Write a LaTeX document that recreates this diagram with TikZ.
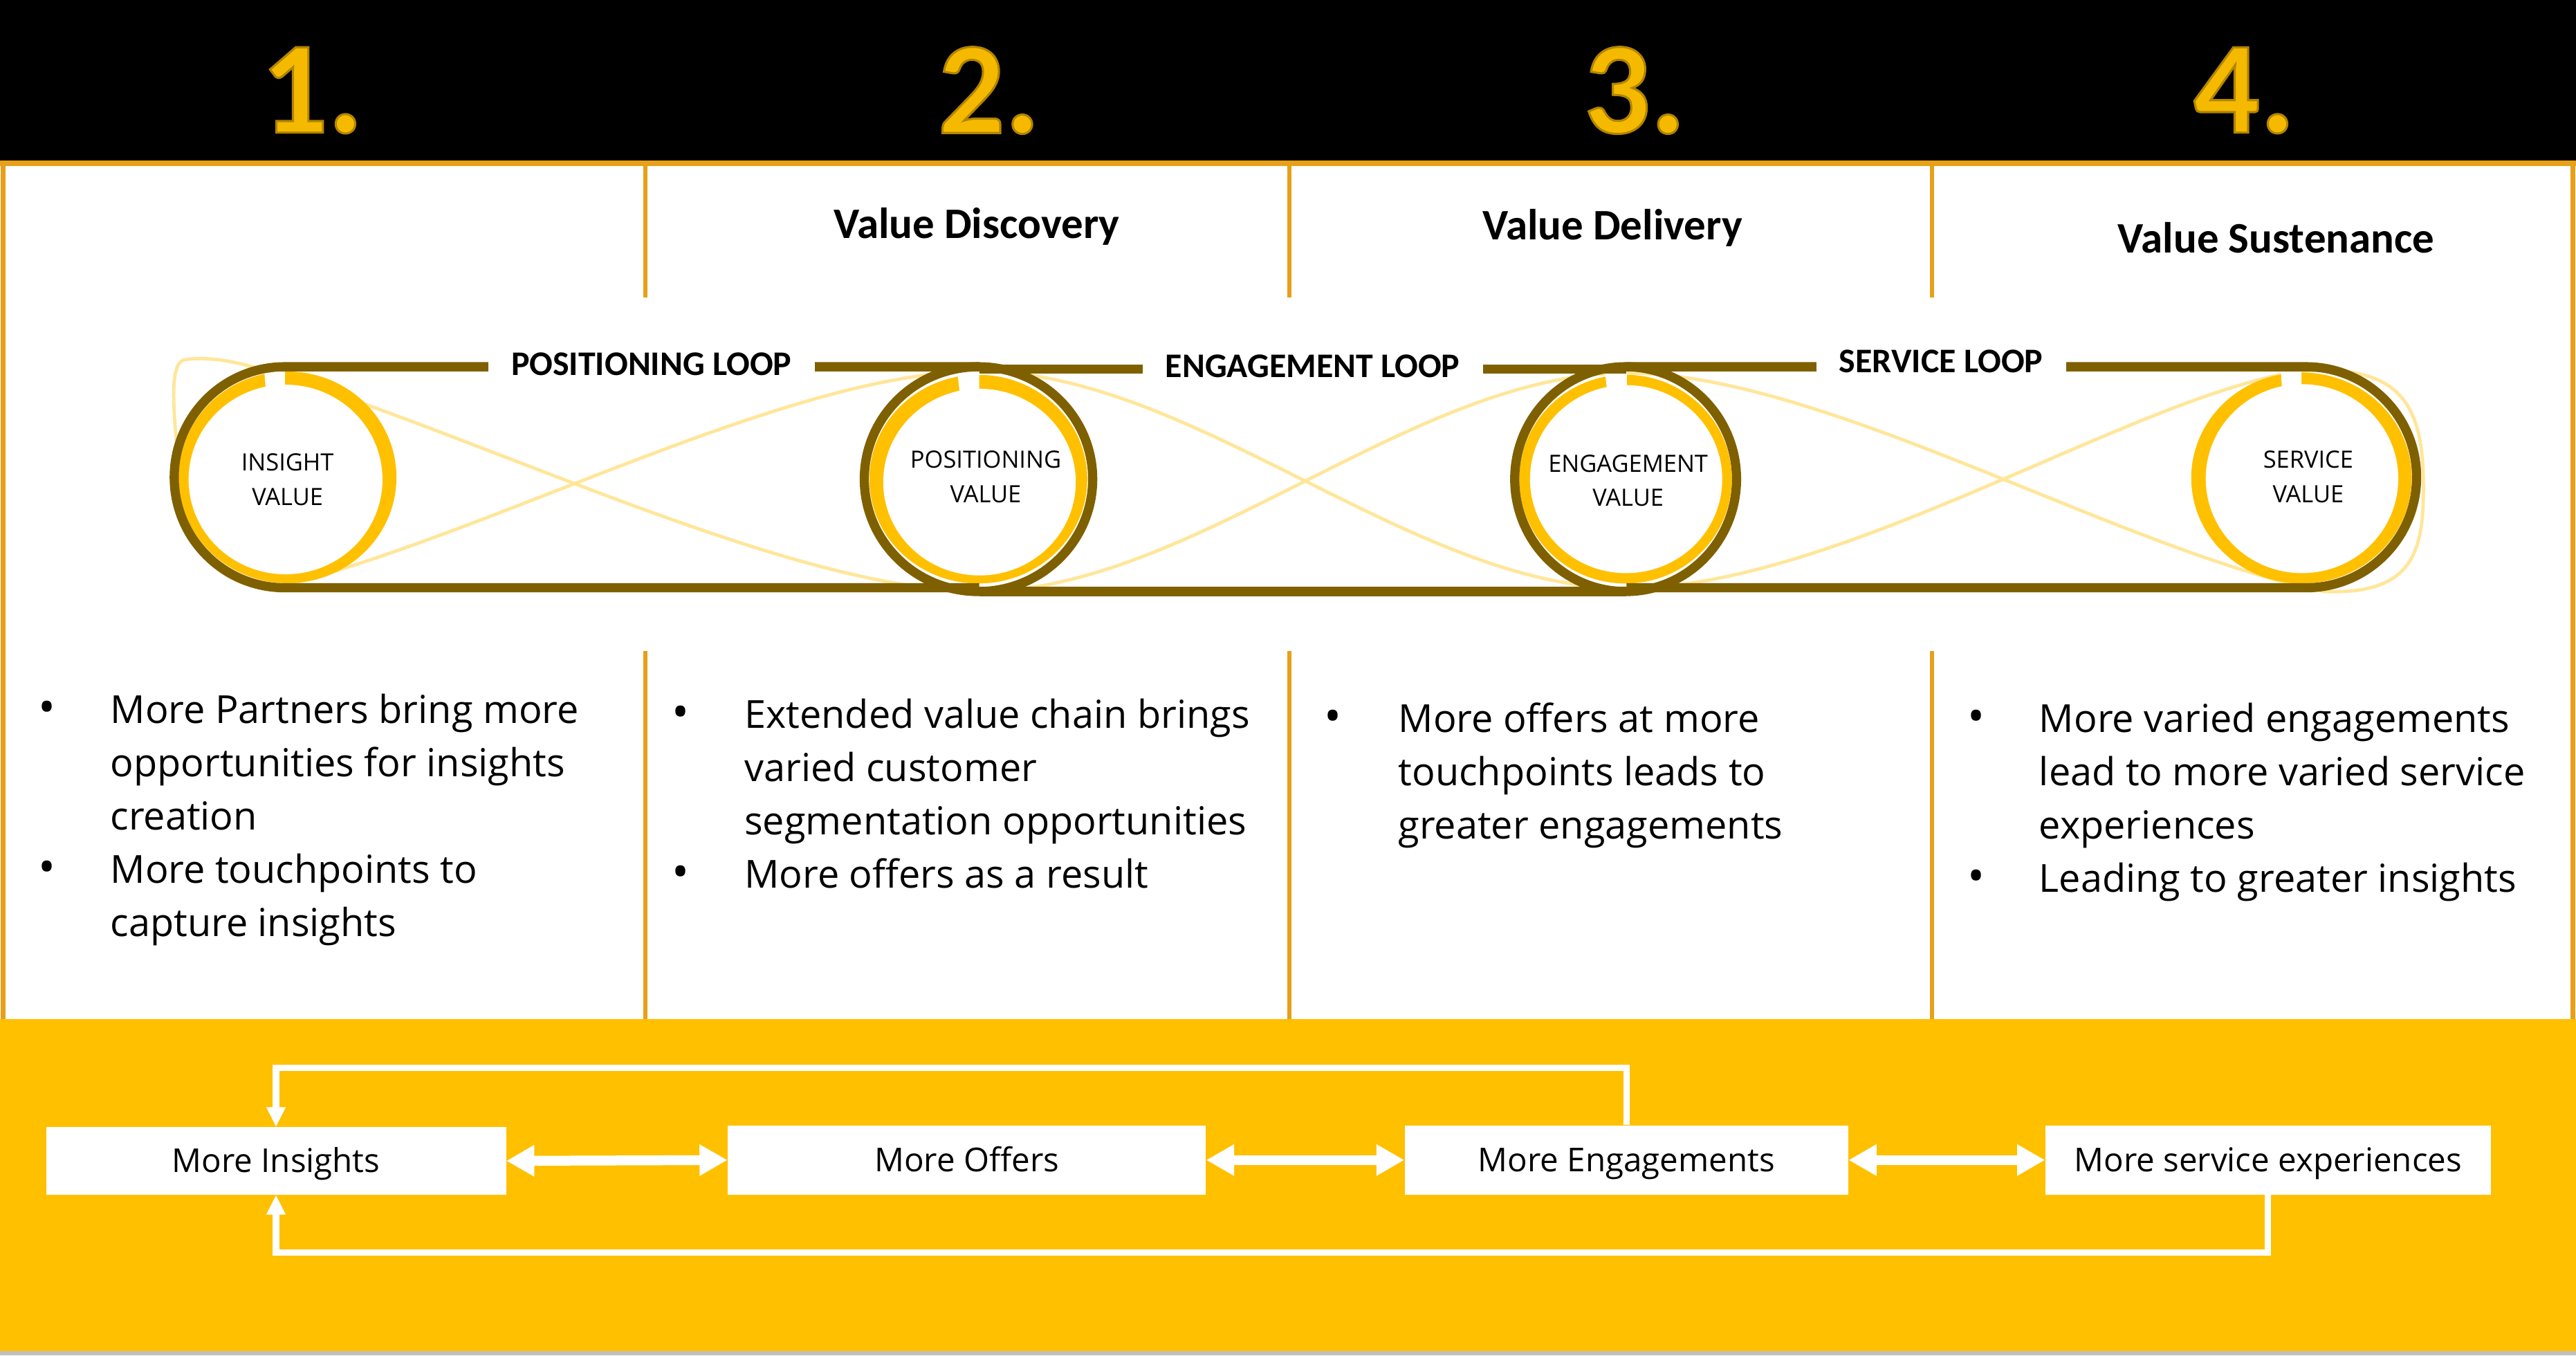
\documentclass[tikz,border=0pt]{standalone}
\usepackage{fontspec}
\setmainfont{Open Sans}
\newfontfamily\calfont{Carlito}
\usetikzlibrary{arrows.meta}
\definecolor{orng}{RGB}{232,160,24}
\definecolor{yel}{RGB}{255,192,0}
\definecolor{olv}{RGB}{127,96,0}
\definecolor{wavec}{RGB}{255,230,153}
\definecolor{goldc}{RGB}{245,186,0}
\definecolor{greyc}{RGB}{191,191,191}
\newcommand{\bevelnum}[1]{\special{pdf:literal direct 2 Tr 1.3 w 0.70 0.52 0 RG}#1\special{pdf:literal direct 0 Tr}}
\tikzset{
  numtxt/.style={text=goldc, font=\calfont\bfseries\fontsize{80}{80}\selectfont, inner sep=0pt},
  hdr/.style={font=\calfont\bfseries\fontsize{26.5}{30}\selectfont, anchor=base, inner sep=0pt},
  looplbl/.style={fill=white, font=\calfont\bfseries\fontsize{21}{24}\selectfont, inner xsep=14pt, inner ysep=4pt},
  circtxt/.style={align=center, font=\fontsize{14.5}{21}\selectfont, inner sep=0pt},
  body/.style={anchor=base west, inner sep=0pt, font=\fontsize{23.5}{32.5}\selectfont},
  bul/.style={anchor=base, inner sep=0pt, font=\fontsize{28}{32.5}\selectfont},
  bbox/.style={fill=white, inner sep=0pt, text height=18pt, text depth=4pt, font=\fontsize{20}{24}\selectfont},
  dbl/.style={white, line width=6pt, {Triangle[length=17pt,width=18pt]}-{Triangle[length=17pt,width=18pt]}},
  fb/.style={white, line width=4pt, -{Triangle[length=12pt,width=11pt]}},
  wavy/.style={wavec, line width=2pt},
  divl/.style={orng, line width=2.5pt},
  ring/.style={fill=yel},
  notch/.style={fill=white},
  darkring/.style={olv, line width=5.6pt}
}
\begin{document}
\begin{tikzpicture}[x=1pt,y=-1pt]
\useasboundingbox (0,0) rectangle (1568,825);
% backgrounds
\fill[black] (0,0) rectangle (1568,98);
\fill[white] (0,98) rectangle (1568,620);
\fill[yel] (0,620) rectangle (1568,822.5);
\fill[greyc] (0,822.5) rectangle (1568,825);
% borders
\draw[orng, line width=3.5pt] (0,99.5) -- (1568,99.5);
\draw[divl, line width=3pt] (2,98) -- (2,620);
\draw[divl, line width=3pt] (1566,98) -- (1566,620);
\draw[divl] (393,98) -- (393,181);
\draw[divl] (785,98) -- (785,181);
\draw[divl] (1176,98) -- (1176,181);
\draw[divl] (393,396) -- (393,620);
\draw[divl] (785,396) -- (785,620);
\draw[divl] (1176,396) -- (1176,620);
% numbers
\node[numtxt] (n1) at (190,55) {\bevelnum{1.}};
\node[numtxt] (n2) at (602,55) {\bevelnum{2.}};
\node[numtxt] (n3) at (995,55) {\bevelnum{3.}};
\node[numtxt] (n4) at (1366,55) {\bevelnum{4.}};
% headers
\node[hdr] (h2) at (594.5,145) {Value Discovery};
\node[hdr] (h3) at (981.5,146) {Value Delivery};
\node[hdr] (h4) at (1385.5,154) {Value Sustenance};
% wave (one closed figure)
\draw[wavy] (110,295) .. controls (106,255) and (102,222) .. (112,219)
  .. controls (125,217) and (140,219) .. (160,225)
  .. controls (300,268) and (480,359) .. (596,360)
  .. controls (726,360) and (860,227) .. (990,227)
  .. controls (1110,227) and (1290,335) .. (1415,360)
  .. controls (1470,362) and (1476,335) .. (1475,290)
  .. controls (1474,240) and (1455,222) .. (1400,226)
  .. controls (1300,240) and (1120,358) .. (990,358)
  .. controls (860,358) and (726,226) .. (596,226)
  .. controls (480,226) and (300,325) .. (170,357)
  .. controls (140,360) and (114,340) .. (110,295);
% yellow rings
\fill[ring] (175,290.5) ellipse (66.3 and 64.4);
\fill[white] (173.8,291.8) ellipse (59 and 57.7);
\fill[notch] (160.7,224) -- (173.4,224) -- (173.4,237) -- (161.8,237) -- cycle;
\fill[ring] (595.5,291.6) ellipse (66.3 and 63.5);
\fill[white] (596.2,293.4) ellipse (58.6 and 56.8);
\fill[notch] (582.8,226) -- (596,226) -- (596,239) -- (584.1,239) -- cycle;
\fill[ring] (989.4,291.6) ellipse (64.7 and 63.5);
\fill[white] (989.8,291.6) ellipse (58.5 and 57.2);
\fill[notch] (976.9,226) -- (990.3,226) -- (990.3,237) -- (978.1,237) -- cycle;
\fill[ring] (1400.9,290.9) ellipse (67.1 and 64.2);
\fill[white] (1401.2,291.3) ellipse (58.6 and 57.5);
\fill[notch] (1388.2,224) -- (1400.9,224) -- (1400.9,236) -- (1389,236) -- cycle;
% capsule and dark rings
\draw[darkring] (596,223.2) -- (173.3,223.2) arc[start angle=270, end angle=90, radius=67.25] -- (596,357.7);
\draw[darkring] (596,224.7) -- (990,224.7);
\draw[darkring] (596,360) -- (990,360);
\draw[darkring] (990,223.2) -- (1403.7,223.2) arc[start angle=-90, end angle=90, radius=67.25] -- (990,357.7);
\draw[darkring] (595.6,291.6) ellipse (69.5 and 68.4);
\draw[darkring] (989.5,291.6) ellipse (67.5 and 68.4);
% loop labels
\node[looplbl] (pl) at (396.5,221.5) {POSITIONING LOOP};
\node[looplbl] (el) at (799,223) {ENGAGEMENT LOOP};
\node[looplbl] (sl) at (1181.5,220) {SERVICE LOOP};
% circle texts
\node[circtxt] (iv) at (175,292) {INSIGHT\\VALUE};
\node[circtxt] (pv) at (600,290) {POSITIONING\\VALUE};
\node[circtxt] (ev) at (991,292.5) {ENGAGEMENT\\VALUE};
\node[circtxt] (sv) at (1405,290) {SERVICE\\VALUE};
% column 1
\node[bul] (b11) at (28.5,440) {•};
\node[body] (t11) at (67,440) {More Partners bring more};
\node[body] (t12) at (67,472.5) {opportunities for insights};
\node[body] (t13) at (67,505) {creation};
\node[bul] (b12) at (28.5,537.5) {•};
\node[body] (t14) at (67,537.5) {More touchpoints to};
\node[body] (t15) at (67,570) {capture insights};
% column 2
\node[bul] (b21) at (414.5,443) {•};
\node[body] (t21) at (453,443) {Extended value chain brings};
\node[body] (t22) at (453,475.5) {varied customer};
\node[body] (t23) at (453,508) {segmentation opportunities};
\node[bul] (b22) at (414.5,540.5) {•};
\node[body] (t24) at (453,540.5) {More offers as a result};
% column 3
\node[bul] (b31) at (811.5,445.5) {•};
\node[body] (t31) at (851,445.5) {More offers at more};
\node[body] (t32) at (851,478) {touchpoints leads to};
\node[body] (t33) at (851,510.5) {greater engagements};
% column 4
\node[bul] (b41) at (1203,445.5) {•};
\node[body] (t41) at (1241,445.5) {More varied engagements};
\node[body] (t42) at (1241,478) {lead to more varied service};
\node[body] (t43) at (1241,510.5) {experiences};
\node[bul] (b42) at (1203,543) {•};
\node[body] (t44) at (1241,543) {Leading to greater insights};
% bottom boxes
\node[bbox, minimum width=280pt, minimum height=41pt] (ins) at (168,706.5) {More Insights};
\node[bbox, minimum width=291pt, minimum height=42pt] (off) at (588.5,706) {More Offers};
\node[bbox, minimum width=270pt, minimum height=42pt] (eng) at (990,706) {More Engagements};
\node[bbox, minimum width=271pt, minimum height=42pt] (srv) at (1380.5,706) {More service experiences};
% connectors
\draw[dbl] (ins.east) -- (off.west);
\draw[dbl] (off.east) -- (eng.west);
\draw[dbl] (eng.east) -- (srv.west);
\draw[fb] (eng.north) -- ++(0,-35) -| (ins.north);
\draw[fb] (srv.south) -- ++(0,35) -| (ins.south);
\end{tikzpicture}
\end{document}
